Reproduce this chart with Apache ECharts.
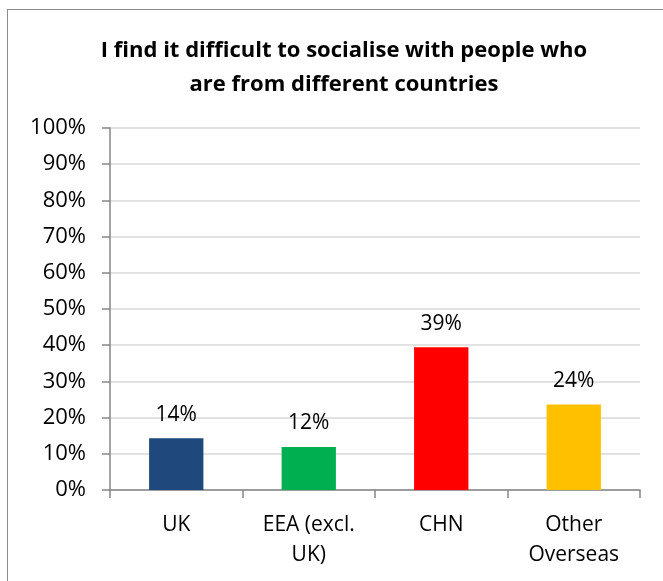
<!DOCTYPE html>
<html><head><meta charset="utf-8">
<script src="https://cdn.jsdelivr.net/npm/echarts@6/dist/echarts.min.js"></script>
<style>html,body{margin:0;padding:0;background:#fff}#frame{position:absolute;left:7px;top:9px;width:660px;height:600px;border:1.5px solid #8c8c8c;box-sizing:border-box}#c{position:absolute;left:0;top:0;width:663px;height:581px}</style>
</head><body><div id="frame"></div><div id="c"></div>
<script>
const categories = ['UK', 'EEA (excl.\nUK)', 'CHN', 'Other\nOverseas'];
const values = [14.3, 11.9, 39.4, 23.6];
const barColors = ['#1F497D', '#00B050', '#FF0000', '#FFC000'];
const yTicks = [0, 10, 20, 30, 40, 50, 60, 70, 80, 90, 100];
const titleText = 'I find it difficult to socialise with people who\nare from different countries';

const chart = echarts.init(document.getElementById('c'));
const font = '"Open Sans", sans-serif';
chart.setOption({
  animation: false,
  title: {
    text: titleText, left: 339, textAlign: 'center', top: 29,
    textStyle: { fontFamily: font, fontWeight: 'bold', fontSize: 22, lineHeight: 34, color: '#000' }
  },
  grid: { left: 110, right: 23, top: 128, bottom: 91 },
  xAxis: {
    type: 'category', data: categories,
    axisLine: { lineStyle: { color: '#868686', width: 1.5 } },
    axisTick: { show: true, length: 8, alignWithLabel: false, lineStyle: { color: '#868686', width: 1.5 } },
    axisLabel: { fontFamily: font, fontSize: 21, color: '#000', margin: 20, lineHeight: 30, interval: 0 }
  },
  yAxis: {
    type: 'value', min: 0, max: 100, interval: 10,
    axisLine: { show: true, lineStyle: { color: '#868686', width: 1.5 } },
    axisTick: { show: true, length: 8, lineStyle: { color: '#868686', width: 1.5 } },
    axisLabel: { fontFamily: font, fontSize: 22, color: '#000', margin: 24, formatter: v => v + '%' },
    splitLine: { lineStyle: { color: '#d9d9d9', width: 1.5 } }
  },
  series: [{
    type: 'bar', barWidth: '41%',
    data: values.map((v, i) => ({ value: v, itemStyle: { color: barColors[i] } })),
    label: { show: true, position: 'top', distance: 13, fontFamily: font, fontSize: 21, color: '#000',
      formatter: p => Math.round(p.value) + '%' }
  }]
});
</script></body></html>
